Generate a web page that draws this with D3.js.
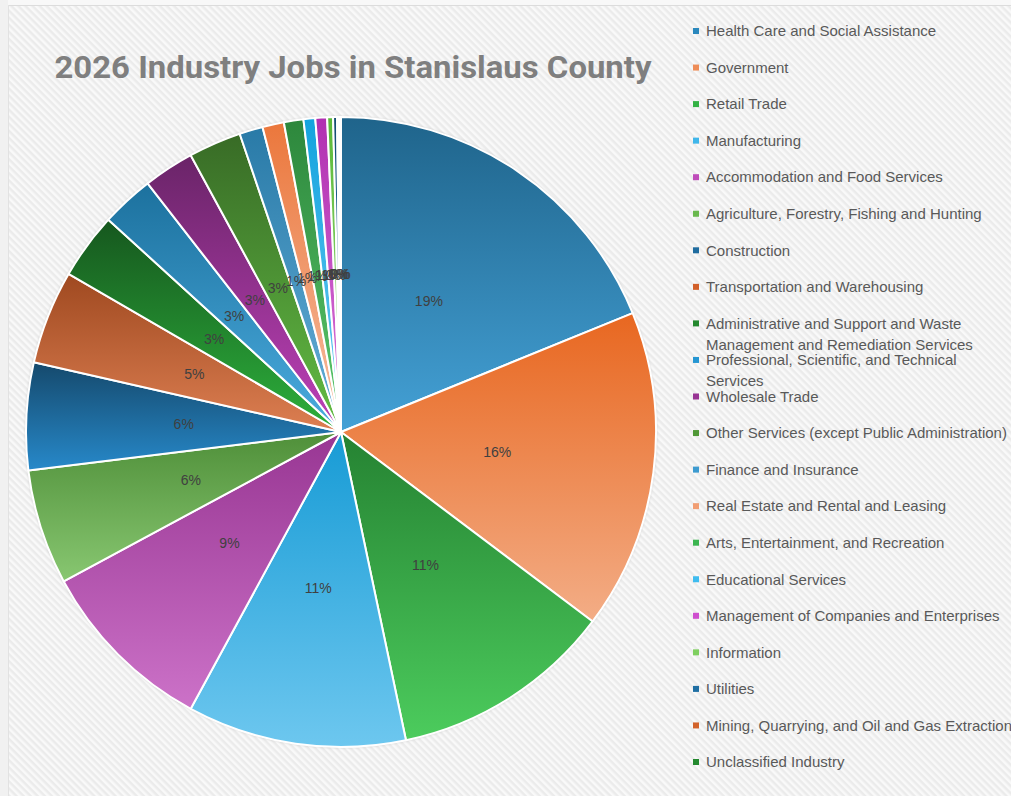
<!DOCTYPE html>
<html>
<head>
<meta charset="utf-8">
<script src="https://cdn.jsdelivr.net/npm/d3@7"></script>
<style>
  body { margin: 0; background: #f8f8f8; }
  svg { display: block; }
</style>
</head>
<body>
<div id="chart"></div>
<script>
// industries, in the order Excel stacks them clockwise from 12 o'clock
const categories = [
  "Health Care and Social Assistance",
  "Government",
  "Retail Trade",
  "Manufacturing",
  "Accommodation and Food Services",
  "Agriculture, Forestry, Fishing and Hunting",
  "Construction",
  "Transportation and Warehousing",
  "Administrative and Support and Waste Management and Remediation Services",
  "Professional, Scientific, and Technical Services",
  "Wholesale Trade",
  "Other Services (except Public Administration)",
  "Finance and Insurance",
  "Real Estate and Rental and Leasing",
  "Arts, Entertainment, and Recreation",
  "Educational Services",
  "Management of Companies and Enterprises",
  "Information",
  "Utilities",
  "Mining, Quarrying, and Oil and Gas Extraction",
  "Unclassified Industry"
];

// share of jobs (%)
const shares = [18.8, 16.4, 11.4, 11.2, 9.2, 5.9, 5.5, 4.8, 3.4, 2.7, 2.6, 2.7,
                1.2, 1.1, 1.0, 0.6, 0.6, 0.3, 0.2, 0.1, 0.1];

// legend entries that Excel wraps onto two lines
const legendBreaks = {
  "Administrative and Support and Waste Management and Remediation Services":
    ["Administrative and Support and Waste", "Management and Remediation Services"],
  "Professional, Scientific, and Technical Services":
    ["Professional, Scientific, and Technical", "Services"]
};

const colors = ["#2a88bd", "#ee8d58", "#33b244", "#3fb6ea", "#bf4cba", "#69b84d",
                "#1f6c9f", "#d2602a", "#23882e", "#2596d2", "#983494", "#4f9836",
                "#3d9bd0", "#f19e74", "#3cb550", "#3fbcef", "#cf4fcf", "#7ecf5f",
                "#1f6fa3", "#d2622a", "#24892f"];

const width = 1011, height = 796;
const cx = 341, cy = 432, radius = 315;

const svg = d3.select('#chart')
  .append('svg')
    .attr('width', width)
    .attr('height', height);

const defs = svg.append('defs');

// diagonal hatch of the chart area
const pat = defs.append('pattern')
  .attr('id', 'hatch')
  .attr('patternUnits', 'userSpaceOnUse')
  .attr('width', 5).attr('height', 5)
  .attr('patternTransform', 'rotate(-45)');
pat.append('rect').attr('width', 5).attr('height', 5).attr('fill', '#ebebeb');
pat.append('rect').attr('width', 2.5).attr('height', 5).attr('fill', '#f9f9f9');

// per slice vertical gradient, darker at the top
function shade(c, dl) {
  const h = d3.hsl(c);
  h.l = Math.max(0, Math.min(1, h.l + dl));
  return h.formatHex();
}
colors.forEach((c, i) => {
  const g = defs.append('linearGradient')
    .attr('id', 'grad' + i)
    .attr('x1', 0).attr('y1', 0).attr('x2', 0).attr('y2', 1);
  g.append('stop').attr('offset', '0%').attr('stop-color', shade(c, -0.12));
  g.append('stop').attr('offset', '100%').attr('stop-color', shade(c, 0.1));
});

const shadow = defs.append('filter').attr('id', 'shadow')
  .attr('x', '-10%').attr('y', '-10%').attr('width', '120%').attr('height', '120%');
shadow.append('feDropShadow')
  .attr('dx', 0).attr('dy', 0).attr('stdDeviation', 1.5)
  .attr('flood-color', '#000').attr('flood-opacity', 0.25);

// frame
svg.append('rect')
  .attr('x', 0).attr('y', 0).attr('width', 8).attr('height', height)
  .attr('fill', '#f1f1f1');
svg.append('rect')
  .attr('x', 8).attr('y', 5)
  .attr('width', width - 8).attr('height', height - 5)
  .attr('fill', 'url(#hatch)');
svg.append('line')
  .attr('x1', 8).attr('x2', width).attr('y1', 5.5).attr('y2', 5.5)
  .attr('stroke', '#dcdcdc');
svg.append('line')
  .attr('x1', 8.5).attr('x2', 8.5).attr('y1', 5).attr('y2', height)
  .attr('stroke', '#e2e2e2');

// title
svg.append('text')
  .attr('x', 353).attr('y', 78)
  .attr('text-anchor', 'middle')
  .attr('font-family', 'Roboto, "Liberation Sans", sans-serif')
  .attr('font-weight', 700)
  .attr('font-size', 31)
  .attr('fill', '#7f7f7f')
  .attr('textLength', 597)
  .attr('lengthAdjust', 'spacingAndGlyphs')
  .text('2026 Industry Jobs in Stanislaus County');

// pie
const data = categories.map((name, i) => ({name, value: shares[i], i}));
const total = d3.sum(shares);

const pie = d3.pie().sort(null).value(d => d.value);
const arc = d3.arc().innerRadius(0).outerRadius(radius);
const arcs = pie(data);

const graph = svg.append('g')
  .attr('transform', `translate(${cx},${cy})`);

graph.append('circle')
  .attr('r', radius)
  .attr('fill', '#fff')
  .attr('filter', 'url(#shadow)');

graph.selectAll('path')
  .data(arcs)
  .enter()
  .append('path')
    .attr('d', arc)
    .attr('fill', d => `url(#grad${d.data.i})`)
    .attr('stroke', '#fff')
    .attr('stroke-width', 2)
    .attr('stroke-linejoin', 'round');

const pct = d3.format('.0%');
graph.selectAll('text.lbl')
  .data(arcs)
  .enter()
  .append('text')
    .attr('class', 'lbl')
    .attr('transform', d => `translate(${arc.centroid(d)})`)
    .attr('text-anchor', 'middle')
    .attr('dy', '0.35em')
    .attr('font-family', '"Liberation Sans", Arial, sans-serif')
    .attr('font-size', 14)
    .attr('fill', '#404040')
    .text(d => pct(d.data.value / total));

// legend
const legend = svg.append('g')
  .attr('font-family', '"Liberation Sans", Arial, sans-serif')
  .attr('font-size', 15)
  .attr('fill', '#595959');

const rowY = d3.scaleLinear().domain([0, categories.length - 1]).range([31, 762]);

const items = legend.selectAll('g')
  .data(categories)
  .enter()
  .append('g')
    .attr('transform', (d, i) => `translate(693,${rowY(i)})`);

items.append('rect')
  .attr('x', 0).attr('y', -3)
  .attr('width', 6).attr('height', 6)
  .attr('fill', (d, i) => colors[i]);

items.append('text')
  .attr('x', 13)
  .each(function(d) {
    const lines = legendBreaks[d] || [d];
    d3.select(this).selectAll('tspan')
      .data(lines)
      .enter()
      .append('tspan')
        .attr('x', 13)
        .attr('dy', (l, j) => j === 0 ? '0.35em' : '1.4em')
        .text(l => l);
  });
</script>
</body>
</html>
